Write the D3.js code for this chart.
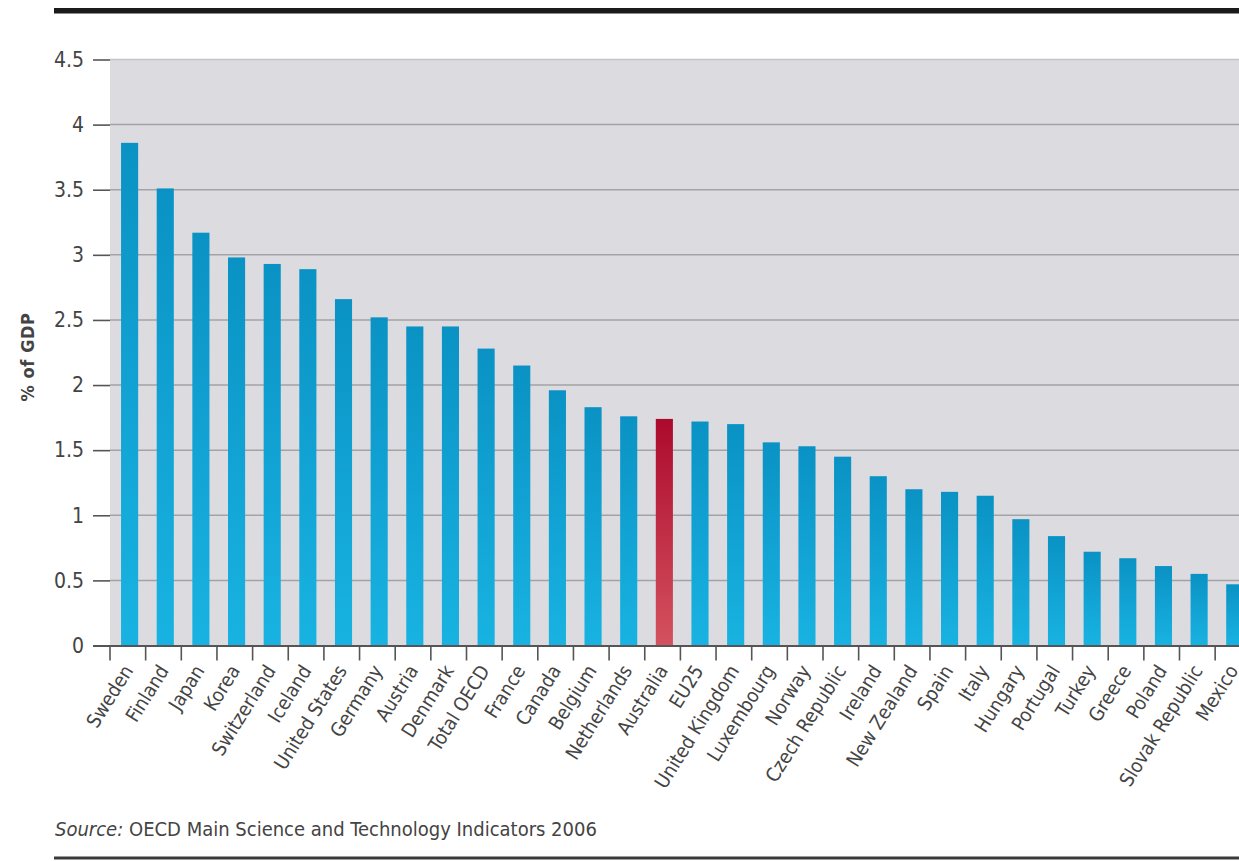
<!DOCTYPE html>
<html>
<head>
<meta charset="utf-8">
<script src="https://cdn.jsdelivr.net/npm/d3@7"></script>
<style>
  html, body { margin: 0; padding: 0; background: #ffffff; overflow: hidden; }
  svg { display: block; }
  .lbl { font-family: "DejaVu Sans Condensed", "Liberation Sans Narrow", sans-serif; font-stretch: condensed; fill: #444; }
</style>
</head>
<body>
<svg id="chart" width="1239" height="861"></svg>
<script>
const categories = ["Sweden","Finland","Japan","Korea","Switzerland","Iceland","United States","Germany","Austria","Denmark","Total OECD","France","Canada","Belgium","Netherlands","Australia","EU25","United Kingdom","Luxembourg","Norway","Czech Republic","Ireland","New Zealand","Spain","Italy","Hungary","Portugal","Turkey","Greece","Poland","Slovak Republic","Mexico"];
const values = [3.86,3.51,3.17,2.98,2.93,2.89,2.66,2.52,2.45,2.45,2.28,2.15,1.96,1.83,1.76,1.74,1.72,1.70,1.56,1.53,1.45,1.30,1.20,1.18,1.15,0.97,0.84,0.72,0.67,0.61,0.55,0.47];
const yTicks = [0,0.5,1,1.5,2,2.5,3,3.5,4,4.5];
const yTickLabels = ["0","0.5","1","1.5","2","2.5","3","3.5","4","4.5"];
const highlight = "Australia";
const yTitle = "% of GDP";
const sourceLabel = "Source:";
const sourceText = " OECD Main Science and Technology Indicators 2006";

const svg = d3.select("#chart");
const W = 1239, H = 861;
const plotLeft = 110, plotTop = 59.5, plotBottom = 645.5;
const bandW = 35.65;

const x = d3.scaleBand().domain(categories).range([plotLeft, plotLeft + bandW * categories.length]);
const y = d3.scaleLinear().domain([0, 4.5]).range([plotBottom, plotTop]);

const defs = svg.append("defs");
const gB = defs.append("linearGradient").attr("id","gBlue").attr("x1",0).attr("y1",0).attr("x2",0).attr("y2",1);
gB.append("stop").attr("offset","0%").attr("stop-color","#0a92c4");
gB.append("stop").attr("offset","100%").attr("stop-color","#18b3e2");
const gR = defs.append("linearGradient").attr("id","gRed").attr("x1",0).attr("y1",0).attr("x2",0).attr("y2",1);
gR.append("stop").attr("offset","0%").attr("stop-color","#ac0a2c");
gR.append("stop").attr("offset","100%").attr("stop-color","#d4525f");

// top rule
svg.append("rect").attr("x",54).attr("y",8).attr("width",W-54).attr("height",5.5).attr("fill","#1b1b1b");
// bottom rule
svg.append("rect").attr("x",54).attr("y",856.5).attr("width",W-54).attr("height",3).attr("fill","#3a3a3a");

// plot background
svg.append("rect").attr("x",plotLeft).attr("y",plotTop).attr("width",W-plotLeft).attr("height",plotBottom-plotTop).attr("fill","#dcdbe0");

// gridlines
svg.append("g").selectAll("line").data(yTicks.filter(d=>d>0)).join("line")
  .attr("x1",plotLeft).attr("x2",W)
  .attr("y1",d=>y(d)).attr("y2",d=>y(d))
  .attr("stroke",d=> d===4.5 ? "#c4c4c8" : "#a3a3a6").attr("stroke-width",1.5);

// bars
svg.append("g").selectAll("rect").data(categories).join("rect")
  .attr("x",d=>x(d) + x.bandwidth()*0.31)
  .attr("width",x.bandwidth()*0.48)
  .attr("y",(d,i)=>y(values[i]))
  .attr("height",(d,i)=>y(0)-y(values[i]))
  .attr("fill",d=> d===highlight ? "url(#gRed)" : "url(#gBlue)");

// y axis ticks
const yAxis = d3.axisLeft(y).tickValues(yTicks).tickFormat((d,i)=>yTickLabels[i]).tickSize(17).tickPadding(9);
const gy = svg.append("g").attr("transform",`translate(${plotLeft},0)`).call(yAxis);
gy.select(".domain").remove();
gy.selectAll(".tick line").attr("stroke","#555").attr("stroke-width",1.6);
gy.selectAll(".tick text").attr("class","lbl").style("font-size","21px").attr("fill","#444");

// x axis line
svg.append("line").attr("x1",93).attr("x2",W).attr("y1",y(0)+0.5).attr("y2",y(0)+0.5).attr("stroke","#555").attr("stroke-width",2);

// x ticks at band boundaries
svg.append("g").selectAll("line").data(categories).join("line")
  .attr("x1",d=>x(d)).attr("x2",d=>x(d))
  .attr("y1",y(0)).attr("y2",y(0)+15)
  .attr("stroke","#555").attr("stroke-width",1.6);

// x labels
svg.append("g").selectAll("text").data(categories).join("text")
  .attr("class","lbl")
  .attr("text-anchor","end")
  .attr("transform",d=>`translate(${x(d)+x.bandwidth()/2+6},${y(0)+25}) rotate(-58)`)
  .style("font-size","19.5px")
  .text(d=>d);

// y title
svg.append("text")
  .attr("class","lbl")
  .attr("text-anchor","middle")
  .attr("transform",`translate(34,357) rotate(-90)`)
  .style("font-size","18px").style("font-weight","bold").style("letter-spacing","0.6px")
  .attr("fill","#333")
  .text(yTitle);

// source
const src = svg.append("text").attr("class","lbl").attr("x",55).attr("y",836)
  .style("font-size","20px").attr("fill","#333");
src.append("tspan").style("font-style","italic").text(sourceLabel);
src.append("tspan").text(sourceText);
</script>
</body>
</html>
